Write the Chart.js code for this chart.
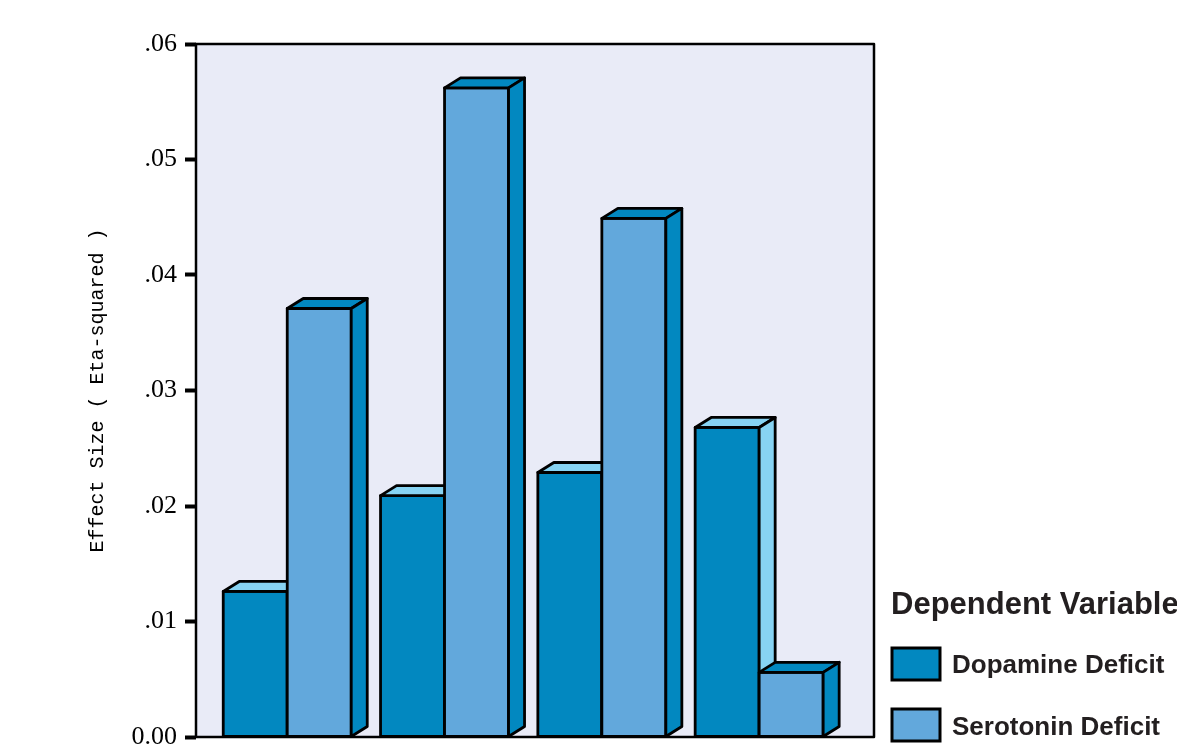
<!DOCTYPE html>
<html>
<head>
<meta charset="utf-8">
<title>Effect Size by Dependent Variable</title>
<script src="https://cdn.jsdelivr.net/npm/chart.js@4.4.1/dist/chart.umd.min.js"></script>
<style>
  html, body { margin: 0; padding: 0; background: #ffffff; }
  #wrap { position: relative; width: 1177px; height: 754px; }
</style>
</head>
<body>
<div id="wrap"><canvas id="effectChart"></canvas></div>
<script>
// four groups, no labels on the x axis
const groups = ['1', '2', '3', '4'];
const dopamineDeficit = [0.0126, 0.0209, 0.0229, 0.0268];
const serotoninDeficit = [0.0371, 0.0562, 0.0449, 0.0056];
const yTicks = ['0.00', '.01', '.02', '.03', '.04', '.05', '.06'];

const legendTitle = 'Dependent Variable';
const seriesNames = ['Dopamine Deficit', 'Serotonin Deficit'];

const colors = {
    plotBg: '#e9ebf7',
    dopFront: '#0288c0',
    dopSide: '#87d3f3',
    serFront: '#62a8dc',
    serSide: '#0288c0'
};

// depth of the fake 3d boxes
const DX = 16, DY = 10;

function poly(ctx, pts, fill) {
    ctx.beginPath();
    ctx.moveTo(pts[0][0], pts[0][1]);
    for (let i = 1; i < pts.length; i++) ctx.lineTo(pts[i][0], pts[i][1]);
    ctx.closePath();
    ctx.fillStyle = fill;
    ctx.fill();
    ctx.stroke();
}

const boxPlugin = {
    id: 'boxPlugin',
    beforeDraw(chart) {
        const { ctx, chartArea: a } = chart;
        ctx.save();
        ctx.fillStyle = colors.plotBg;
        ctx.fillRect(a.left, a.top, a.right - a.left, a.bottom - a.top);
        ctx.restore();
    },
    afterDatasetsDraw(chart) {
        const { ctx, chartArea: a } = chart;
        ctx.save();
        ctx.lineWidth = 2.8;
        ctx.lineJoin = 'round';
        ctx.strokeStyle = '#000';
        // redraw each group left to right so a box hides the depth of the one before it
        groups.forEach((g, i) => {
            chart.data.datasets.forEach((ds, d) => {
                const bar = chart.getDatasetMeta(d).data[i];
                const l = bar.x - bar.width / 2;
                const r = bar.x + bar.width / 2;
                const t = bar.y, b = bar.base;
                poly(ctx, [[l, t], [r, t], [r, b], [l, b]], ds.backgroundColor);
                poly(ctx, [[l, t], [l + DX, t - DY], [r + DX, t - DY], [r, t]], ds.sideColor);
                poly(ctx, [[r, t], [r + DX, t - DY], [r + DX, b - DY], [r, b]], ds.sideColor);
            });
        });
        ctx.lineWidth = 2.5;
        ctx.strokeRect(a.left, a.top, a.right - a.left, a.bottom - a.top);
        ctx.restore();
    },
    afterDraw(chart) {
        const ctx = chart.ctx;
        ctx.save();
        ctx.fillStyle = '#231f20';
        ctx.textBaseline = 'alphabetic';
        ctx.font = 'bold 31px "Liberation Sans", Arial, sans-serif';
        ctx.fillText(legendTitle, 891, 614);

        const fills = [colors.dopFront, colors.serFront];
        const boxY = [648, 709];
        const textY = [673, 735];
        ctx.font = 'bold 26px "Liberation Sans", Arial, sans-serif';
        seriesNames.forEach((name, i) => {
            ctx.fillStyle = fills[i];
            ctx.fillRect(892, boxY[i], 48, 32);
            ctx.lineWidth = 3;
            ctx.strokeStyle = '#000';
            ctx.strokeRect(892, boxY[i], 48, 32);
            ctx.fillStyle = '#231f20';
            ctx.fillText(name, 952, textY[i]);
        });
        ctx.restore();
    }
};

const ctx = document.getElementById('effectChart').getContext('2d');

new Chart(ctx, {
    type: 'bar',
    data: {
        datasets: [{
            label: seriesNames[0],
            data: dopamineDeficit.map((v, i) => ({ x: i, y: v })),
            backgroundColor: colors.dopFront,
            sideColor: colors.dopSide,
            borderColor: '#000',
            borderWidth: 2,
            borderSkipped: false
        }, {
            label: seriesNames[1],
            data: serotoninDeficit.map((v, i) => ({ x: i, y: v })),
            backgroundColor: colors.serFront,
            sideColor: colors.serSide,
            borderColor: '#000',
            borderWidth: 2,
            borderSkipped: false
        }]
    },
    options: {
        responsive: true,
        maintainAspectRatio: false,
        animation: false,
        barThickness: 64,
        layout: {
            padding: { left: 0, right: 303, top: 44, bottom: 17 }
        },
        scales: {
            x: {
                type: 'linear',
                display: false,
                offset: false,
                min: -0.58,
                max: 3.73
            },
            y: {
                min: 0,
                max: 0.06,
                afterFit(scale) {
                    scale.width = 196;
                    scale.paddingTop = 0;
                    scale.paddingBottom = 0;
                },
                ticks: {
                    stepSize: 0.01,
                    padding: 8,
                    color: '#000',
                    font: { family: '"Liberation Serif", serif', size: 26 },
                    callback: function(value) {
                        return yTicks[Math.round(value * 100)];
                    }
                },
                grid: {
                    drawOnChartArea: false,
                    drawTicks: true,
                    tickLength: 11,
                    tickWidth: 4,
                    tickColor: '#000'
                },
                border: { display: false },
                title: {
                    display: true,
                    text: 'Effect Size ( Eta-squared )',
                    color: '#000',
                    font: { family: '"Liberation Mono", monospace', size: 20 },
                    padding: { top: 86, bottom: 0 }
                }
            }
        },
        plugins: {
            legend: { display: false },
            tooltip: { enabled: false }
        }
    },
    plugins: [boxPlugin]
});
</script>
</body>
</html>
